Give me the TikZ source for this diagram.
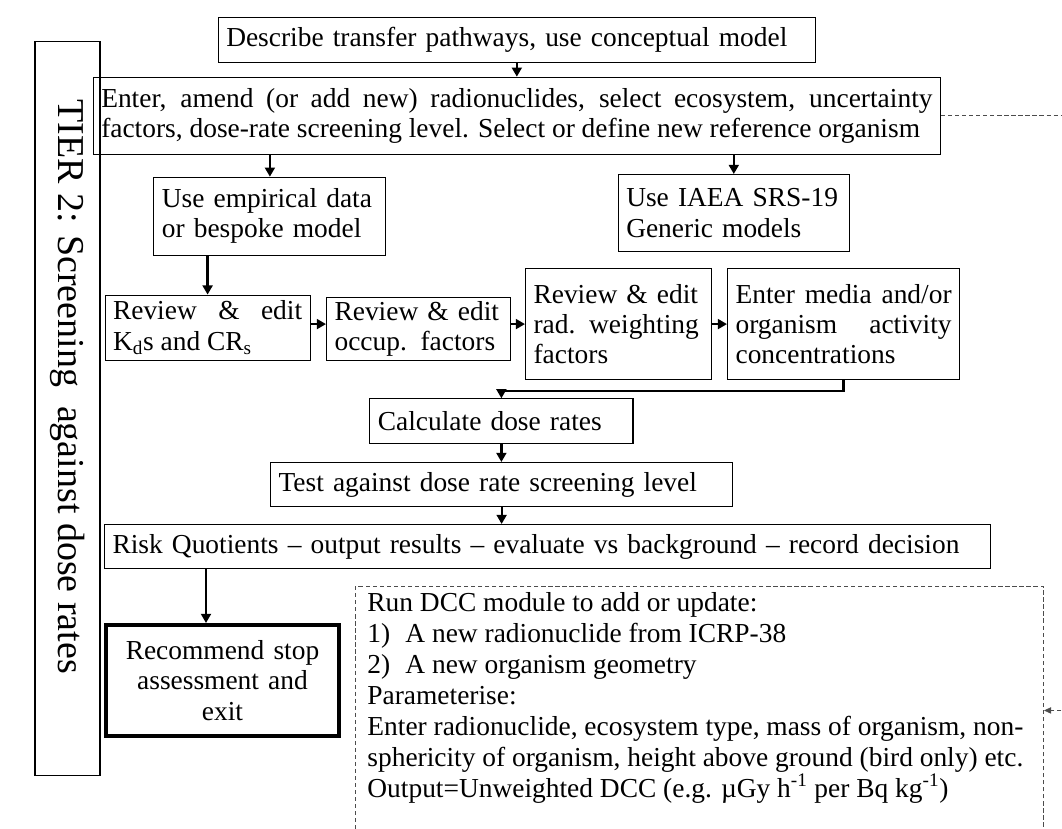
\documentclass[tikz,border=0pt]{standalone}
\usepackage{fontspec}
\setmainfont{Liberation Serif}
\usetikzlibrary{positioning,arrows.meta,calc}
\newcommand{\boxfont}{\fontsize{19.5}{21.5}\selectfont\hyphenpenalty=10000\exhyphenpenalty=10000}
\newcommand{\itemno}[1]{\makebox[0.95cm][l]{#1}}

\begin{document}
\begin{tikzpicture}[x=0.025cm,y=-0.025cm,
    box/.style={draw,line width=0.8pt,anchor=north west,inner xsep=0.2cm,inner ysep=0pt,align=left,font=\boxfont},
    flow/.style={line width=1.6pt,-{Triangle[length=6.5pt,width=7pt]}},
    dashline/.style={draw=gray!60!black,line width=0.6pt,dash pattern=on 3pt off 2pt}]
    \useasboundingbox (0,0) rectangle (1062,828);
    % side label
    \node[draw,line width=0.8pt,rotate=-90,minimum width=18.325cm,minimum height=1.625cm,font=\fontsize{27}{30}\selectfont]
        (tier) at (67.5,408.5) {TIER 2: Screening\ \ against dose rates\hspace*{1.1cm}};
    % input and set-up steps
    \node[box,text width=14.525cm,minimum height=1.125cm] (describe) at (217.7,16.7)
        {Describe transfer pathways, use conceptual model};
    \node[box,align=justify,text width=20.775cm,minimum height=1.925cm] (enter) at (92.7,76.7)
        {Enter, amend (or add new) radionuclides, select ecosystem, uncertainty\linebreak
         factors, dose-rate screening level. Select or define new reference organism};
    \node[box,text width=5.4cm,minimum height=1.95cm] (empirical) at (153.3,176.7)
        {Use empirical data\\or bespoke model};
    \node[box,text width=5.375cm,minimum height=1.925cm] (iaea) at (617.7,174)
        {Use IAEA SRS-19\\Generic models};
    % review row
    \node[box,align=justify,text width=4.725cm,minimum height=1.625cm] (review1) at (104.5,294.6)
        {Review \& edit\linebreak K\textsubscript{d}s and CR\textsubscript{s}};
    \node[box,text width=4.2cm,minimum height=1.575cm] (review2) at (326,297)
        {Review \& edit\\occup. factors};
    \node[box,text width=4.25cm,minimum height=2.775cm] (review3) at (525,268)
        {Review \& edit\\rad. weighting\\factors};
    \node[box,align=justify,text width=5.4cm,minimum height=2.775cm] (media) at (727,268)
        {Enter media and/or\linebreak organism activity\linebreak concentrations};
    % calculation and outcome
    \node[box,text width=6.175cm,minimum height=1.125cm] (calc) at (369.3,398.3)
        {Calculate dose rates};
    \node[box,text width=11.15cm,minimum height=1.1cm] (test) at (270,462)
        {Test against dose rate screening level};
    \node[box,text width=21.75cm,minimum height=1.1cm] (risk) at (104,524)
        {Risk Quotients -- output results -- evaluate vs background -- record decision};
    \node[box,align=center,line width=2.8pt,text width=5.425cm,minimum height=2.775cm] (recommend) at (104,623)
        {Recommend stop\\assessment and\\exit};
    \node[dashline,anchor=north west,inner xsep=0.3cm,inner ysep=0.15cm,font=\boxfont] (dcc) at (355,586)
        {\begin{minipage}[t][5.9cm][t]{16.6cm}\fontsize{19.5}{22}\selectfont
         Run DCC module to add or update:\\
         \itemno{1)}A new radionuclide from ICRP-38\\
         \itemno{2)}A new organism geometry\\
         Parameterise:\\
         Enter radionuclide, ecosystem type, mass of organism, non-\\
         sphericity of organism, height above ground (bird only) etc.\\
         Output=Unweighted DCC (e.g. µGy h\textsuperscript{-1} per Bq kg\textsuperscript{-1})
         \end{minipage}};
    % connectors
    \draw[flow] (describe.south) -- (enter.north -| describe.south);
    \draw[flow] (enter.south -| empirical.north) -- (empirical.north);
    \draw[flow] (enter.south -| iaea.north) -- (iaea.north);
    \draw[flow] (empirical.south -| review1.north) -- (review1.north);
    \draw[flow] (review1.east |- review3.west) -- (review2.west |- review3.west);
    \draw[flow] (review2.east |- review3.west) -- (review3.west);
    \draw[flow] (review3.east) -- (media.west);
    \draw[flow] (media.south) -- ++(0,11) -| (calc.north);
    \draw[flow] (calc.south) -- (test.north -| calc.south);
    \draw[flow] (test.south) -- (risk.north -| test.south);
    \coordinate (stopx) at (206,0);
    \draw[flow] (risk.south -| stopx) -- (recommend.north -| stopx);
    % link to the DCC module, running off the right edge
    \coordinate (rim) at (1080,0);
    \draw[dashline,-{Triangle[length=5pt,width=4.5pt]}] (enter.east) -- (enter.east -| rim) |- (dcc.east);
\end{tikzpicture}
\end{document}
